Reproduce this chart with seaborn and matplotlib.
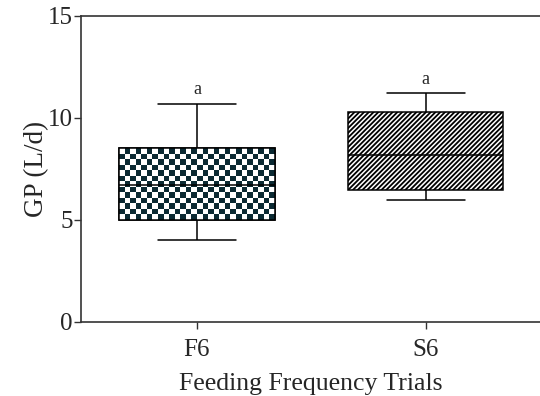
import numpy as np
import pandas as pd
import matplotlib
matplotlib.use("Agg")
import matplotlib.pyplot as plt
import seaborn as sns

# Data (five-number summaries)
groups = ["F6", "S6"]
f6_values = [4.0, 5.0, 6.7, 8.5, 10.7]
s6_values = [6.0, 6.45, 8.2, 10.3, 11.2]
letters = ["a", "a"]
yticks = [0, 5, 10, 15]

sns.set_theme(style="ticks")
plt.rcParams["font.family"] = ["Liberation Serif", "DejaVu Serif"]
plt.rcParams["hatch.linewidth"] = 1.3
plt.rcParams["hatch.color"] = "#1c4545"

df = pd.DataFrame({
    "trial": ["F6"] * len(f6_values) + ["S6"] * len(s6_values),
    "gp": f6_values + s6_values,
})

fig = plt.figure(figsize=(5.4, 3.96), dpi=100)
ax = fig.add_axes([0.15, 0.187, 0.85, 0.773])

sns.boxplot(data=df, x="trial", y="gp", order=groups, whis=np.inf,
            width=0.68, color="white", linecolor="black", linewidth=1.1,
            ax=ax)

ax.set_xlim(-0.507, 1.5)
ax.set_ylim(0, 15)
ax.set_yticks(yticks)
ax.set_xlabel("Feeding Frequency Trials", fontsize=18.5, labelpad=9)
ax.set_ylabel("GP (L/d)", fontsize=19.5, labelpad=-1)
ax.tick_params(axis="both", labelsize=18, length=5, width=1.0, color="#333333",
               direction="out")
ax.tick_params(axis="x", pad=7)
ax.tick_params(axis="y", pad=1)
for side in ["left", "bottom", "top"]:
    ax.spines[side].set_visible(True)
    ax.spines[side].set_linewidth(1.2)
    ax.spines[side].set_color("#333333")
ax.spines["right"].set_visible(False)

boxes = [p for p in ax.patches]
fig.canvas.draw()

# S6: diagonal hatch
if len(boxes) > 1:
    boxes[1].set_hatch("///////")
    boxes[1].set_edgecolor("black")

# F6: checkerboard fill clipped to the box
box = boxes[0]
path = box.get_path().transformed(box.get_patch_transform())
verts = path.vertices
x0, x1 = verts[:, 0].min(), verts[:, 0].max()
y0, y1 = verts[:, 1].min(), verts[:, 1].max()
disp = ax.transData.transform([[x0, y0], [x1, y1]])
wpx = abs(disp[1, 0] - disp[0, 0])
hpx = abs(disp[1, 1] - disp[0, 1])
cell = 5.6
nx = max(1, int(round(wpx / cell)))
ny = max(1, int(round(hpx / cell)))
checker = (np.add.outer(np.arange(ny), np.arange(nx)) % 2).astype(float)
cmap = matplotlib.colors.ListedColormap(["#ffffff", "#0b2a33"])
im = ax.imshow(checker, extent=[x0, x1, y0, y1], cmap=cmap, origin="lower",
               interpolation="nearest", aspect="auto", zorder=box.get_zorder() + 0.1)
im.set_clip_path(box)
ax.set_xlim(-0.507, 1.5)
ax.set_ylim(0, 15)

# redraw box outline and median on top of the checkerboard
outline = matplotlib.patches.PathPatch(path, facecolor="none", edgecolor="black",
                                       linewidth=1.1, zorder=box.get_zorder() + 0.2)
ax.add_patch(outline)
for ln in ax.lines:
    ln.set_zorder(box.get_zorder() + 0.3)

# significance letters
maxima = [max(f6_values), max(s6_values)]
for i, (lab, m) in enumerate(zip(letters, maxima)):
    ax.text(i, m + 0.25, lab, ha="center", va="bottom", fontsize=13)

fig.savefig("out.png", dpi=100)
